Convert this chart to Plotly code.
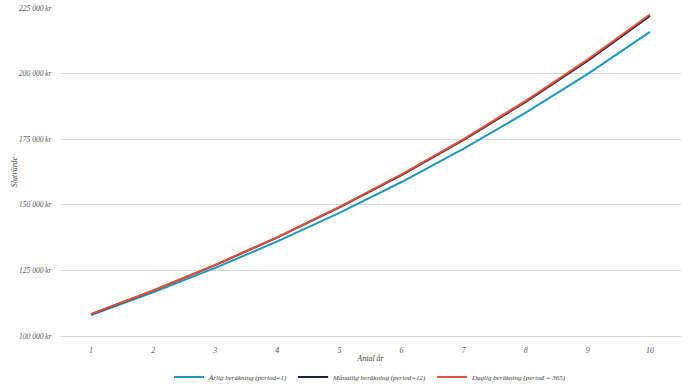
import plotly.graph_objects as go

years = ["1", "2", "3", "4", "5", "6", "7", "8", "9", "10"]
annual = [108000, 116640, 125971, 136049, 146933, 158687, 171382, 185093, 199900, 215892]
monthly = [108300, 117289, 127024, 137567, 148985, 161350, 174742, 189246, 204953, 221964]
daily = [108328, 117348, 127119, 137703, 149168, 161588, 175042, 189617, 205405, 222508]
names = ["Årlig beräkning (period=1)", "Månatlig beräkning (period=12)", "Daglig beräkning (period = 365)"]
colors = ["#2196b6", "#1e2440", "#e0513f"]
y_ticks = [100000, 125000, 150000, 175000, 200000, 225000]
y_ticktext = ["{:,} kr".format(v).replace(",", " ") for v in y_ticks]

FONT = "Liberation Serif"
fig = go.Figure()
for vals, nm, c in zip([annual, monthly, daily], names, colors):
    fig.add_trace(go.Scatter(x=years, y=vals, name=nm, mode="lines",
                             line=dict(color=c, width=2)))

fig.update_layout(
    width=690, height=388,
    margin=dict(l=60, r=9, t=8, b=52, autoexpand=False),
    plot_bgcolor="white", paper_bgcolor="white",
    font=dict(family=FONT, size=8, color="#595959", style="italic"),
    showlegend=True,
    legend=dict(orientation="h", x=0.5, xanchor="center", y=-0.125, yanchor="middle",
                font=dict(family=FONT, size=7, color="#404040", style="italic"),
                itemwidth=30, tracegroupgap=0),
    xaxis=dict(type="category", range=[-0.5, 9.5], showgrid=False, showline=True,
               automargin=False,
               linecolor="#d9d9d9", ticks="outside", ticklen=6, tickcolor="rgba(0,0,0,0)",
               tickfont=dict(size=8, color="#595959"),
               title=dict(text="Antal år", standoff=1,
                          font=dict(size=8, color="#404040", style="italic"))),
    yaxis=dict(range=[100000, 225000], tickvals=y_ticks, ticktext=y_ticktext,
               automargin=False,
               showgrid=True, gridcolor="#d9d9d9", gridwidth=1,
               zeroline=False, showline=False, ticks="outside", ticklen=6,
               tickcolor="rgba(0,0,0,0)",
               tickfont=dict(size=7.5, color="#595959"),
               title=dict(text="Slutvärde", standoff=0,
                          font=dict(size=8, color="#404040", style="italic"))),
)

fig.write_html("out.html", config={"displayModeBar": False},
               post_script="document.body.style.margin='0';document.body.style.overflow='hidden';")
